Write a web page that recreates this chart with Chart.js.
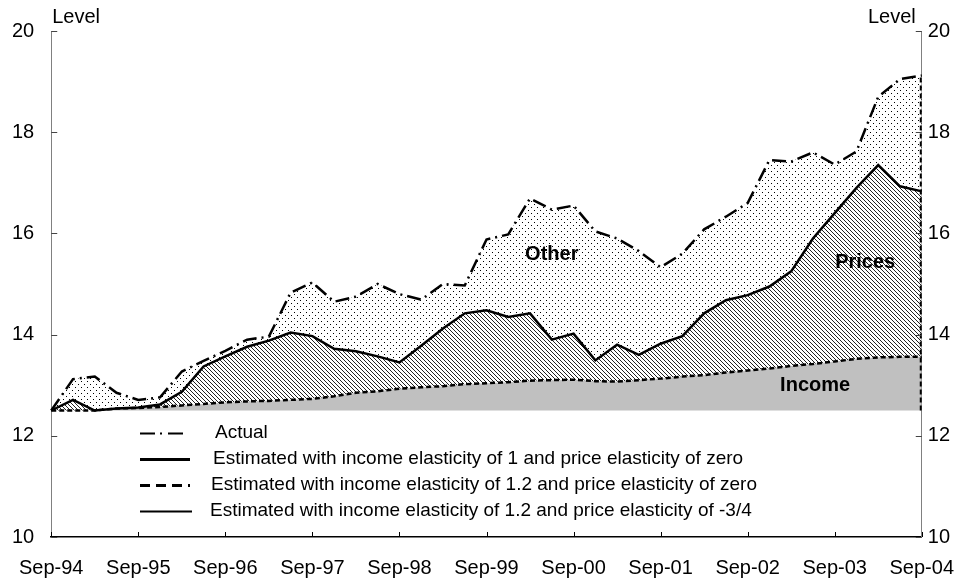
<!DOCTYPE html>
<html><head><meta charset="utf-8">
<script src="https://cdn.jsdelivr.net/npm/chart.js@4.4.0/dist/chart.umd.min.js"></script>
<style>html,body{margin:0;padding:0;background:#fff;}#wrap{width:973px;height:582px;}</style>
</head><body><div id="wrap"><canvas id="c" width="973" height="582"></canvas></div>
<script>
const quarters = ['Sep-94','Dec-94','Mar-95','Jun-95','Sep-95','Dec-95','Mar-96','Jun-96','Sep-96','Dec-96','Mar-97','Jun-97','Sep-97','Dec-97','Mar-98','Jun-98','Sep-98','Dec-98','Mar-99','Jun-99','Sep-99','Dec-99','Mar-00','Jun-00','Sep-00','Dec-00','Mar-01','Jun-01','Sep-01','Dec-01','Mar-02','Jun-02','Sep-02','Dec-02','Mar-03','Jun-03','Sep-03','Dec-03','Mar-04','Jun-04','Sep-04'];
const yearTicks = ['Sep-94','Sep-95','Sep-96','Sep-97','Sep-98','Sep-99','Sep-00','Sep-01','Sep-02','Sep-03','Sep-04'];
const yTicks = [10,12,14,16,18,20];

const actual = [12.5,13.12,13.17,12.85,12.71,12.76,13.27,13.48,13.68,13.9,13.96,14.83,15.03,14.65,14.75,15.0,14.8,14.69,15.0,14.97,15.88,15.98,16.69,16.47,16.55,16.04,15.9,15.65,15.33,15.6,16.08,16.33,16.6,17.45,17.42,17.6,17.36,17.62,18.7,19.05,19.12];
const incOnePriceZero = [12.5,12.5,12.5,12.5,12.5,12.5,12.5,12.5,12.5,12.5,12.5,12.5,12.5,12.5,12.5,12.5,12.5,12.5,12.5,12.5,12.5,12.5,12.5,12.5,12.5,12.5,12.5,12.5,12.5,12.5,12.5,12.5,12.5,12.5,12.5,12.5,12.5,12.5,12.5,12.5,12.5];
const incTwoPriceZero = [12.5,12.5,12.5,12.54,12.55,12.57,12.6,12.63,12.66,12.68,12.69,12.71,12.73,12.78,12.85,12.88,12.93,12.96,12.98,13.02,13.04,13.06,13.09,13.1,13.11,13.08,13.07,13.1,13.13,13.17,13.2,13.25,13.29,13.33,13.38,13.42,13.47,13.52,13.55,13.56,13.56];
const incTwoPriceNeg = [12.5,12.71,12.5,12.54,12.56,12.62,12.87,13.37,13.57,13.76,13.88,14.04,13.97,13.72,13.67,13.57,13.45,13.78,14.12,14.42,14.48,14.35,14.42,13.9,14.02,13.49,13.8,13.6,13.82,13.97,14.42,14.68,14.78,14.95,15.25,15.9,16.4,16.9,17.35,16.93,16.83];

const seriesNames = ['Actual','Estimated with income elasticity of 1 and price elasticity of zero','Estimated with income elasticity of 1.2 and price elasticity of zero','Estimated with income elasticity of 1.2 and price elasticity of -3/4'];
const areaNames = ['Other','Prices','Income'];
const axisTitle = 'Level';

const FONT = '"Liberation Sans", Arial, sans-serif';

function hatchPattern(){
  const c=document.createElement('canvas'); c.width=4; c.height=4;
  const g=c.getContext('2d');
  g.fillStyle='#fff'; g.fillRect(0,0,4,4);
  g.strokeStyle='#222'; g.lineWidth=1;
  g.beginPath();
  g.moveTo(-1,-1); g.lineTo(5,5);
  g.moveTo(-1,3); g.lineTo(1,5);
  g.moveTo(3,-1); g.lineTo(5,1);
  g.stroke();
  return g.createPattern(c,'repeat');
}
function dotPattern(){
  const c=document.createElement('canvas'); c.width=6; c.height=6;
  const g=c.getContext('2d');
  g.fillStyle='#fff'; g.fillRect(0,0,6,6);
  g.fillStyle='#000';
  g.fillRect(0,0,1,1); g.fillRect(3,3,1,1);
  return g.createPattern(c,'repeat');
}

const decor = {
  id:'decor',
  afterDraw(chart){
    const ctx=chart.ctx, a=chart.chartArea;
    const x=chart.scales.x, yl=chart.scales.y, yr=chart.scales.y2;
    ctx.save();
    // right edge of the shaded areas
    const last=quarters.length-1;
    ctx.strokeStyle='#000'; ctx.lineWidth=2; ctx.setLineDash([5,3]);
    ctx.beginPath();
    ctx.moveTo(a.right-1,yl.getPixelForValue(incOnePriceZero[last]));
    ctx.lineTo(a.right-1,yl.getPixelForValue(actual[last]));
    ctx.stroke(); ctx.setLineDash([]);
    // inward tick marks
    ctx.strokeStyle='#444'; ctx.lineWidth=1;
    yTicks.forEach(v=>{
      const py=Math.round(yl.getPixelForValue(v))+0.5;
      ctx.beginPath(); ctx.moveTo(a.left,py); ctx.lineTo(a.left+6,py); ctx.stroke();
      const qy=Math.round(yr.getPixelForValue(v))+0.5;
      ctx.beginPath(); ctx.moveTo(a.right-6,qy); ctx.lineTo(a.right,qy); ctx.stroke();
    });
    ctx.strokeStyle='#000';
    yearTicks.forEach(lbl=>{
      const px=Math.round(x.getPixelForValue(quarters.indexOf(lbl)))+0.5;
      ctx.beginPath(); ctx.moveTo(px,a.bottom); ctx.lineTo(px,a.bottom-5); ctx.stroke();
    });
    // axis titles
    ctx.fillStyle='#000'; ctx.font='20px '+FONT; ctx.textBaseline='alphabetic';
    ctx.textAlign='left'; ctx.fillText(axisTitle,a.left+1,23);
    ctx.textAlign='right'; ctx.fillText(axisTitle,a.right-6,23);
    // area labels
    ctx.font='bold 20px '+FONT; ctx.textAlign='center'; ctx.textBaseline='middle';
    const pos=[[23.0,15.58],[37.4,15.43],[35.1,13.0]];
    areaNames.forEach((n,i)=>{
      ctx.fillText(n, x.getPixelForValue(pos[i][0]), yl.getPixelForValue(pos[i][1]));
    });
    // legend
    const rows=[433,459,485,511], tx=[215,213,211,210];
    ctx.font='19px '+FONT; ctx.textAlign='left'; ctx.textBaseline='middle';
    const styles=[{w:2,d:[15,5,2,6],e:185},{w:3,d:[],e:190},{w:3,d:[10,6],e:190},{w:2,d:[],e:192}];
    rows.forEach((ry,i)=>{
      const s=styles[i];
      ctx.lineWidth=s.w; ctx.setLineDash(s.d); ctx.strokeStyle='#000';
      ctx.beginPath(); ctx.moveTo(140,ry+0.5); ctx.lineTo(s.e,ry+0.5); ctx.stroke();
      ctx.setLineDash([]);
      ctx.fillText(seriesNames[i],tx[i],ry);
    });
    ctx.restore();
  }
};

const ch = new Chart(document.getElementById('c'),{
  type:'line',
  data:{
    labels:quarters,
    datasets:[
      {label:seriesNames[1],data:incOnePriceZero,borderColor:'rgba(0,0,0,0)',borderWidth:0,pointRadius:0,fill:false},
      {label:seriesNames[2],data:incTwoPriceZero,borderColor:'#000',borderWidth:2.5,borderDash:[5,3],pointRadius:0,fill:'-1',backgroundColor:'#c0c0c0'},
      {label:seriesNames[3],data:incTwoPriceNeg,borderColor:'#000',borderWidth:2.5,pointRadius:0,fill:'-1',backgroundColor:hatchPattern()},
      {label:seriesNames[0],data:actual,borderColor:'#000',borderWidth:2.5,borderDash:[14,5,2,5],pointRadius:0,fill:'-1',backgroundColor:dotPattern()}
    ]
  },
  options:{
    responsive:false, animation:false, devicePixelRatio:1,
    layout:{padding:{top:31,left:0,right:0,bottom:0}},
    elements:{line:{tension:0,borderCapStyle:'butt',borderJoinStyle:'miter'}},
    plugins:{legend:{display:false},tooltip:{enabled:false},filler:{drawTime:'beforeDatasetsDraw',propagate:false}},
    scales:{
      x:{type:'category',offset:false,
        grid:{display:false,drawTicks:false},
        border:{display:true,color:'#000',width:1.5},
        ticks:{autoSkip:false,maxRotation:0,minRotation:0,padding:19,color:'#000',font:{family:FONT,size:20},
          callback:function(v,i){const l=quarters[i];return yearTicks.includes(l)?l:'';}},
        afterFit:s=>{s.height=45;}
      },
      y:{position:'left',min:10,max:20,
        grid:{display:false,drawTicks:false},
        border:{display:true,color:'#808080',width:1},
        ticks:{stepSize:2,padding:17,color:'#000',font:{family:FONT,size:20}},
        afterFit:s=>{s.width=50;}
      },
      y2:{position:'right',min:10,max:20,
        grid:{display:false,drawTicks:false},
        border:{display:true,color:'#808080',width:1},
        ticks:{stepSize:2,padding:6,color:'#000',font:{family:FONT,size:20}},
        afterFit:s=>{s.width=44;}
      }
    }
  },
  plugins:[decor]
});
</script></body></html>
